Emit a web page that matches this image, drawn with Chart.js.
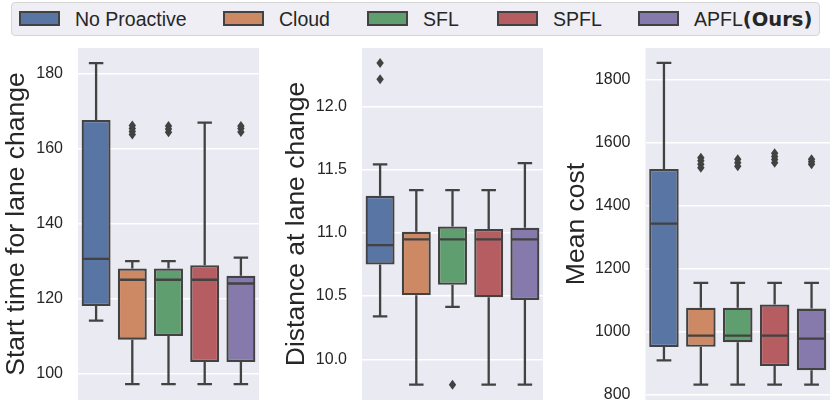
<!DOCTYPE html>
<html>
<head>
<meta charset="utf-8">
<script src="https://cdn.jsdelivr.net/npm/chart.js@4.4.1/dist/chart.umd.min.js"></script>
<style>
  body { margin: 0; background: #fff; width: 830px; height: 404px; overflow: hidden; position: relative;
         font-family: "Liberation Sans", Arial, sans-serif; color: #262626; }
  .panel { position: absolute; top: 48px; }
  #legend { position: absolute; left: 11px; top: 2px; width: 807px; height: 32px;
            border: 1px solid #d6d6d6; border-radius: 4px; background: #eeeef4; }
  .item { position: absolute; top: 0; height: 32px; display: flex; align-items: center; font-size: 19.5px; white-space: nowrap; }
  .patch { width: 37px; height: 11px; border: 2px solid #424242; margin-right: 15px; margin-top: -2px; }
  .ours { font-family: "DejaVu Sans", sans-serif; font-weight: bold; }
</style>
</head>
<body>
<div id="legend"></div>
<div class="panel" style="left:0px"><canvas id="c1" width="259" height="360"></canvas></div>
<div class="panel" style="left:280px"><canvas id="c2" width="263" height="360"></canvas></div>
<div class="panel" style="left:560px"><canvas id="c3" width="270" height="360"></canvas></div>
<script>
// categories and colours
var methods = ['No Proactive', 'Cloud', 'SFL', 'SPFL', 'APFL'];
var colors = ['#5975a4', '#cc8963', '#5f9e6e', '#b55d60', '#857aab'];
var lineGray = '#424242';

// start time for lane change
var startLow = [114.1, 97.1, 97.1, 97.1, 97.1];
var startQ1 = [118.0, 109.0, 110.0, 103.0, 103.0];
var startMed = [130.6, 125.0, 125.0, 125.0, 124.0];
var startQ3 = [167.7, 128.0, 128.0, 128.9, 126.1];
var startHigh = [182.9, 130.0, 130.0, 167.0, 130.9];
var startOut = [[], [163.8, 164.6, 165.4, 166.2], [164.4, 165.3, 166.1], [], [164.5, 165.4, 166.1]];
var startTicks = [100, 120, 140, 160, 180];

// distance at lane change
var distLow = [10.34, 9.80, 10.415, 9.80, 9.80];
var distQ1 = [10.75, 10.506, 10.59, 10.49, 10.47];
var distMed = [10.903, 10.948, 10.948, 10.948, 10.948];
var distQ3 = [11.292, 11.008, 11.05, 11.03, 11.04];
var distHigh = [11.54, 11.337, 11.337, 11.337, 11.55];
var distOut = [[12.213, 12.342], [], [9.80], [], []];
var distTicks = [10.0, 10.5, 11.0, 11.5, 12.0];

// mean cost
var costLow = [908, 831, 831, 831, 831];
var costQ1 = [950, 951, 965, 890, 876];
var costMed = [1342, 986, 986, 986, 977];
var costQ3 = [1515, 1075, 1075, 1085, 1072];
var costHigh = [1852, 1154, 1154, 1154, 1154];
var costOut = [[], [1519, 1530, 1541, 1551], [1524, 1535, 1546], [1535, 1545, 1555, 1565], [1530, 1538, 1546]];
var costTicks = [800, 1000, 1200, 1400, 1600, 1800];

Chart.defaults.font.family = '"Liberation Sans", Arial, sans-serif';
Chart.defaults.color = '#262626';

// legend
var legend = document.getElementById('legend');
var legendLeft = [7, 211, 355, 485, 626];
methods.forEach(function (m, i) {
  var item = document.createElement('div');
  item.className = 'item';
  item.style.left = legendLeft[i] + 'px';
  var label = m == 'APFL' ? 'APFL<span class="ours">(Ours)</span>' : m;
  item.innerHTML = '<div class="patch" style="background:' + colors[i] + '"></div><span>' + label + '</span>';
  legend.appendChild(item);
});

// background of the plot area
var bgPlugin = {
  id: 'bg',
  beforeDraw: function (chart) {
    var a = chart.chartArea, ctx = chart.ctx;
    ctx.save();
    ctx.fillStyle = '#eaeaf2';
    ctx.fillRect(a.left, a.top, a.right - a.left, a.bottom - a.top);
    ctx.restore();
  }
};

// whiskers, medians and fliers on top of the floating bars
var boxPlugin = {
  id: 'boxExtras',
  afterDatasetsDraw: function (chart) {
    var st = chart.options.plugins.boxExtras;
    var y = chart.scales.y, ctx = chart.ctx;
    var bars = chart.getDatasetMeta(0).data;
    ctx.save();
    ctx.strokeStyle = lineGray;
    ctx.fillStyle = lineGray;
    ctx.lineWidth = 2.3;
    bars.forEach(function (bar, i) {
      var x = bar.x, w = bar.width;
      var yq1 = y.getPixelForValue(st.q1[i]), yq3 = y.getPixelForValue(st.q3[i]);
      var ylo = y.getPixelForValue(st.low[i]), yhi = y.getPixelForValue(st.high[i]);
      var ym = y.getPixelForValue(st.med[i]);
      ctx.beginPath();
      ctx.moveTo(x, yq3); ctx.lineTo(x, yhi);
      ctx.moveTo(x, yq1); ctx.lineTo(x, ylo);
      ctx.moveTo(x - w / 4, yhi); ctx.lineTo(x + w / 4, yhi);
      ctx.moveTo(x - w / 4, ylo); ctx.lineTo(x + w / 4, ylo);
      ctx.moveTo(x - w / 2 + 1, ym); ctx.lineTo(x + w / 2 - 1, ym);
      ctx.stroke();
      st.out[i].forEach(function (v) {
        var py = y.getPixelForValue(v);
        ctx.beginPath();
        ctx.moveTo(x, py - 5); ctx.lineTo(x + 3.7, py);
        ctx.lineTo(x, py + 5); ctx.lineTo(x - 3.7, py);
        ctx.closePath();
        ctx.fill();
      });
    });
    ctx.restore();
  }
};

function makeBox(id, title, low, q1, med, q3, high, out, ticks, yMin, yMax, axisWidth, titlePad, digits) {
  return new Chart(document.getElementById(id), {
    type: 'bar',
    data: {
      labels: methods,
      datasets: [{
        data: q1.map(function (v, i) { return [v, q3[i]]; }),
        backgroundColor: colors,
        borderColor: lineGray,
        borderWidth: 2.3,
        borderSkipped: false,
        categoryPercentage: 1.0,
        barPercentage: 0.8
      }]
    },
    options: {
      responsive: false,
      animation: false,
      layout: { padding: { top: 0, right: 0, bottom: 8, left: 0 } },
      scales: {
        x: { display: false },
        y: {
          min: yMin,
          max: yMax,
          border: { display: false },
          grid: { color: '#ffffff', lineWidth: 1.4, drawTicks: false },
          ticks: {
            padding: 15,
            font: { size: 16 },
            callback: function (v) { return v.toFixed(digits); }
          },
          title: { display: true, text: title, font: { size: 26.5 }, padding: { top: titlePad, bottom: 0 } },
          afterBuildTicks: function (scale) {
            scale.ticks = ticks.map(function (v) { return { value: v }; });
          },
          afterFit: function (scale) {
            scale.width = axisWidth;
            scale.paddingTop = 0;
            scale.paddingBottom = 0;
          }
        }
      },
      plugins: {
        legend: { display: false },
        tooltip: { enabled: false },
        boxExtras: { low: low, q1: q1, med: med, q3: q3, high: high, out: out }
      }
    },
    plugins: [bgPlugin, boxPlugin]
  });
}

makeBox('c1', 'Start time for lane change', startLow, startQ1, startMed, startQ3, startHigh, startOut,
        startTicks, 92.87, 186.94, 78, 1, 0);
makeBox('c2', 'Distance at lane change', distLow, distQ1, distMed, distQ3, distHigh, distOut,
        distTicks, 9.679, 12.46, 82, 1, 1);
makeBox('c3', 'Mean cost', costLow, costQ1, costMed, costQ3, costHigh, costOut,
        costTicks, 781.9, 1899.3, 85.5, 1, 0);
</script>
</body>
</html>
